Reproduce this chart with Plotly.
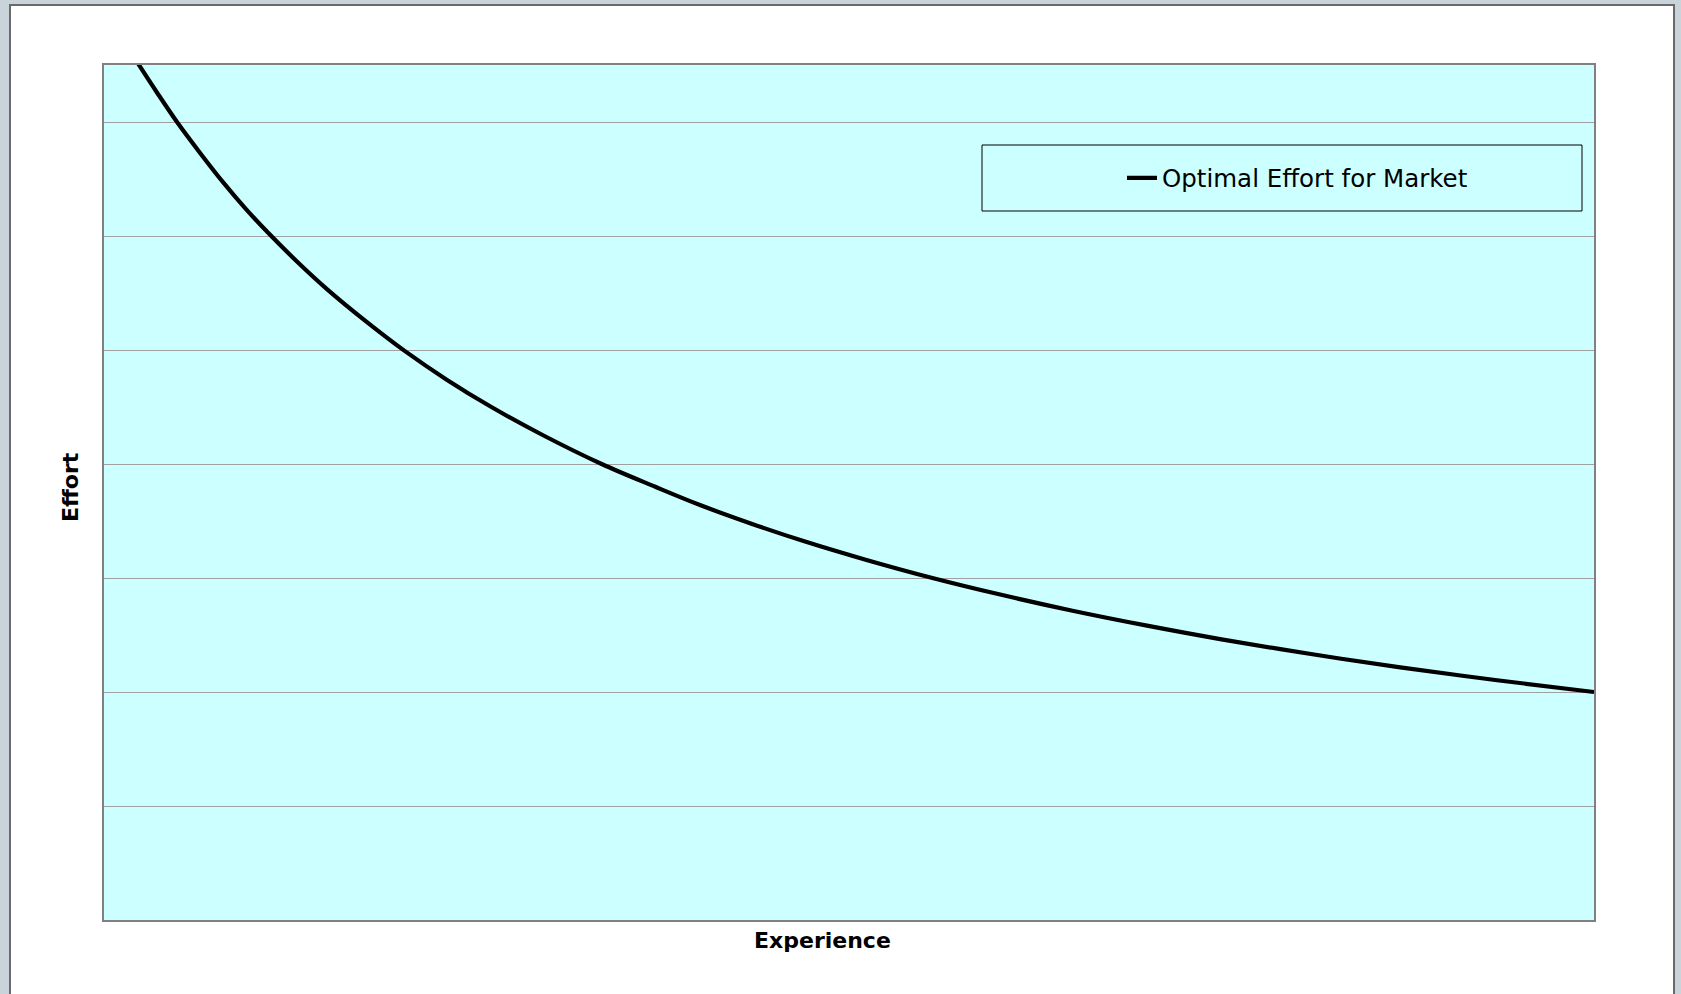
import plotly.graph_objects as go

# Experience (arbitrary units across the axis) and the corresponding optimal effort
experience = [2.3, 3.5, 4.9, 6.5, 8.0, 9.5, 11.0, 13.0, 15.0, 17.5, 20.2, 23.0, 26.0, 29.5,
              33.4, 37.0, 40.0, 43.5, 47.0, 51.0, 55.6, 60.0, 65.0, 70.0, 75.0, 81.0, 87.0,
              93.5, 100.0]
effort = [7.51, 7.27, 7.0, 6.72, 6.47, 6.24, 6.03, 5.77, 5.53, 5.26, 4.99, 4.74, 4.5, 4.25,
          4.0, 3.8, 3.64, 3.474, 3.322, 3.165, 3.0, 2.859, 2.713, 2.582, 2.462, 2.333, 2.216,
          2.103, 2.0]

series_name = "Optimal Effort for Market"
x_title = "Experience"
y_title = "Effort"

W, H = 1681, 994
L, R, T, B = 104, 87, 65, 74
PW, PH = W - L - R, H - T - B


def px_x(p):
    return (p - L) / PW


def px_y(p):
    return (H - B - p) / PH


fig = go.Figure()
fig.add_trace(go.Scatter(
    x=experience, y=effort, mode="lines", name=series_name,
    line=dict(color="black", width=4.2, shape="spline", smoothing=1.0),
))

shapes = [
    # white chart frame on the grey page
    dict(type="rect", xref="paper", yref="paper", layer="below",
         x0=px_x(10), x1=px_x(1674), y0=px_y(1010), y1=px_y(5),
         fillcolor="white", line=dict(color="#6a6a6a", width=2)),
    # plot area fill
    dict(type="rect", xref="paper", yref="paper", layer="below",
         x0=0, x1=1, y0=0, y1=1,
         fillcolor="#ccffff", line=dict(width=0)),
    # legend box
    dict(type="rect", xref="paper", yref="paper",
         x0=px_x(982), x1=px_x(1582), y0=px_y(211), y1=px_y(145),
         fillcolor="rgba(0,0,0,0)", line=dict(color="black", width=1)),
]

annotations = [
    dict(text=f"<b>{x_title}</b>", xref="paper", yref="paper",
         x=px_x(822), y=px_y(940), showarrow=False,
         xanchor="center", yanchor="middle",
         font=dict(family="DejaVu Sans", size=22, color="black")),
    dict(text=f"<b>{y_title}</b>", xref="paper", yref="paper",
         x=px_x(70), y=px_y(487), showarrow=False, textangle=-90,
         xanchor="center", yanchor="middle",
         font=dict(family="DejaVu Sans", size=22, color="black")),
]

fig.update_layout(
    width=W, height=H,
    margin=dict(l=L, r=R, t=T, b=B, pad=0),
    paper_bgcolor="#c8d3da",
    plot_bgcolor="#ccffff",
    shapes=shapes,
    annotations=annotations,
    showlegend=True,
    legend=dict(
        x=px_x(1122), y=px_y(178), xanchor="left", yanchor="middle",
        bgcolor="rgba(0,0,0,0)", borderwidth=0,
        font=dict(family="DejaVu Sans", size=24.5, color="black"),
    ),
    xaxis=dict(range=[0, 100], showgrid=False, zeroline=False,
               showticklabels=False, ticks="",
               showline=True, mirror=True, linecolor="#808080", linewidth=2),
    yaxis=dict(range=[0, 7.5], dtick=1, tick0=0, showgrid=True,
               gridcolor="#a0a0a0", gridwidth=1, zeroline=False,
               showticklabels=False, ticks="",
               showline=True, mirror=True, linecolor="#808080", linewidth=2),
)

fig.write_html("out.html")
